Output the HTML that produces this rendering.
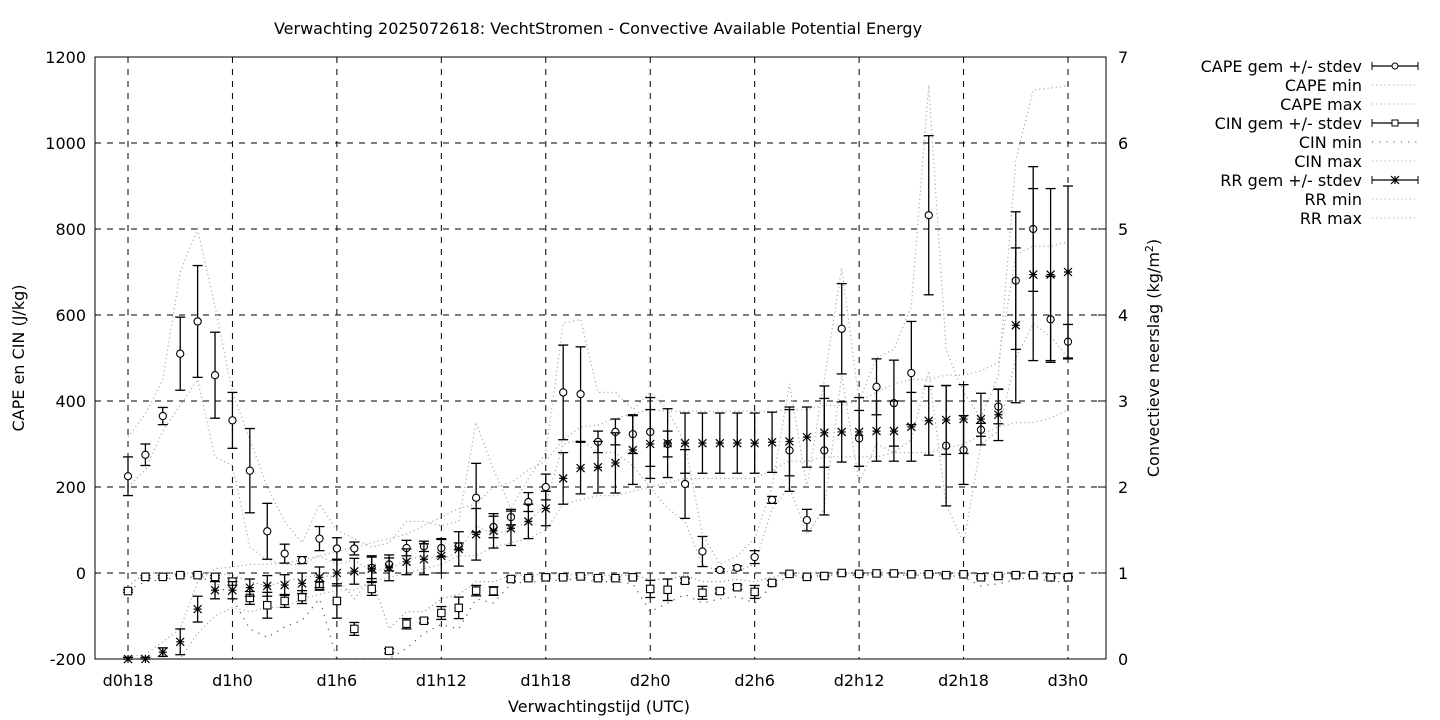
<!DOCTYPE html>
<html><head><meta charset="utf-8">
<style>
html,body{margin:0;padding:0;background:#fff;}
svg{display:block;font-family:"DejaVu Sans","Liberation Sans",sans-serif;}
</style></head>
<body>
<svg id="chart" width="1440" height="720" viewBox="0 0 1440 720" xmlns="http://www.w3.org/2000/svg">
<text x="598" y="34" font-size="16" text-anchor="middle">Verwachting 2025072618: VechtStromen - Convective Available Potential Energy</text>
<text x="599" y="712" font-size="16" text-anchor="middle">Verwachtingstijd (UTC)</text>
<text transform="translate(24,358) rotate(-90)" font-size="16" text-anchor="middle">CAPE en CIN (J/kg)</text>
<text transform="translate(1159,358) rotate(-90)" font-size="16" text-anchor="middle">Convectieve neerslag (kg/m<tspan baseline-shift="super" font-size="11">2</tspan>)</text>
<g id="grid"></g>
<g id="series"></g>
<rect x="95" y="57" width="1011" height="602" fill="none" stroke="#000" stroke-width="1"/>
<g id="axes"></g>
<g id="legend"></g>
</svg>
<script>
const xTickLabels = ["d0h18","d1h0","d1h6","d1h12","d1h18","d2h0","d2h6","d2h12","d2h18","d3h0"];
const yTicks = [-200,0,200,400,600,800,1000,1200];
const y2Ticks = [0,1,2,3,4,5,6,7];
const capeMean = [225,275,365,510,585,460,355,238,97,45,30,80,57,57,12,20,58,62,58,62,175,107,130,165,200,420,416,305,328,323,328,300,207,50,7,12,37,170,285,123,285,568,313,433,395,465,832,296,286,333,387,680,800,590,538];
const capeSd = [45,25,20,85,130,100,65,98,65,22,8,28,25,15,25,15,18,12,20,8,80,25,18,22,30,110,110,25,30,45,80,30,80,35,3,5,15,8,95,25,150,105,65,65,100,120,185,140,80,15,40,160,145,100,40];
const capeMin = [200,240,330,390,450,270,250,60,30,20,20,40,20,30,5,10,30,40,30,50,110,90,100,120,160,300,310,280,280,250,200,150,120,20,2,5,20,150,200,90,150,460,210,300,280,310,470,160,70,300,330,500,580,550,500];
const capeMax = [316,370,450,700,800,620,420,310,200,120,70,160,100,80,60,70,120,120,110,120,350,240,150,220,280,580,590,420,420,380,420,380,300,90,20,40,80,200,440,200,450,710,400,500,520,620,1135,520,420,360,460,960,1123,1128,1133];
const cinMean = [-42,-9,-9,-5,-5,-9,-20,-58,-75,-65,-56,-30,-65,-130,-37,-181,-118,-111,-93,-81,-41,-42,-14,-12,-10,-10,-8,-12,-12,-10,-37,-39,-18,-46,-42,-33,-44,-23,-2,-9,-7,0,-2,-1,-1,-3,-3,-5,-3,-10,-7,-5,-5,-10,-10];
const cinSd = [3,3,3,2,2,3,8,15,30,15,15,10,40,15,15,5,12,5,15,25,12,10,5,3,3,3,3,3,3,3,20,25,5,15,5,5,15,5,2,2,2,2,2,2,2,2,2,2,2,3,2,2,2,2,2];
const cinMin = [-40,-20,-15,-10,-10,-20,-60,-130,-150,-125,-110,-60,-200,-200,-200,-200,-175,-140,-120,-130,-60,-70,-25,-20,-20,-15,-15,-20,-20,-25,-90,-70,-50,-70,-60,-55,-70,-30,-5,-10,-5,-5,-5,-5,-5,-5,-5,-5,-10,-30,-25,-15,-10,-20,-20];
const cinMax = [-30,0,0,0,0,0,-5,-20,-30,-20,-10,-5,-10,-60,-10,-130,-90,-90,-60,-50,-20,-20,-5,-5,-3,-3,-3,-5,-5,-5,-15,-15,-5,-20,-20,-15,-20,-10,0,0,0,0,0,0,0,0,0,0,0,-3,-3,0,0,-3,-3];
const rrMean = [0,0,0.08,0.2,0.58,0.8,0.8,0.83,0.85,0.86,0.88,0.95,1.0,1.02,1.05,1.06,1.13,1.16,1.2,1.28,1.45,1.49,1.52,1.6,1.75,2.1,2.22,2.23,2.28,2.43,2.5,2.51,2.51,2.51,2.51,2.51,2.51,2.52,2.53,2.58,2.63,2.64,2.64,2.65,2.65,2.7,2.77,2.78,2.79,2.79,2.84,3.88,4.47,4.47,4.5];
const rrSd = [0.02,0.02,0.05,0.15,0.15,0.1,0.1,0.1,0.12,0.12,0.12,0.12,0.15,0.15,0.15,0.15,0.15,0.18,0.2,0.2,0.3,0.2,0.2,0.2,0.2,0.3,0.3,0.3,0.35,0.4,0.4,0.4,0.35,0.35,0.35,0.35,0.35,0.35,0.4,0.35,0.4,0.35,0.4,0.35,0.35,0.4,0.4,0.4,0.4,0.3,0.3,0.9,1.0,1.0,1.0];
const rrMin = [0,0,0,0,0.3,0.5,0.6,0.55,0.6,0.6,0.7,0.75,0.8,0.8,0.9,0.95,1.0,1.05,1.1,1.2,1.2,1.3,1.35,1.4,1.5,1.8,1.85,1.9,1.9,1.95,2.0,2.05,2.1,2.1,2.1,2.1,2.1,2.2,2.3,2.3,2.35,2.35,2.35,2.35,2.4,2.4,2.4,2.45,2.5,2.6,2.7,2.75,2.75,2.8,2.9];
const rrMax = [0.03,0.05,0.2,0.35,0.9,1.05,1.07,1.1,1.1,1.12,1.15,1.2,1.25,1.3,1.35,1.4,1.45,1.55,1.65,1.75,1.8,2.0,2.05,2.2,2.3,2.55,2.7,2.72,2.8,2.85,2.9,2.88,2.88,2.88,2.88,2.88,2.88,2.88,2.9,2.9,2.95,2.95,3.0,3.1,3.2,3.25,3.25,3.3,3.3,3.35,3.45,4.7,4.8,4.8,4.85];

const NS="http://www.w3.org/2000/svg";
const L=95,R=1106,T=57,B=659;
const X0=128, HOUR=(1068-128)/54;
function xs(i){return X0+HOUR*i;}
function yl(v){return B-(v+200)*(B-T)/1400;}
function yr(v){return B-v*(B-T)/7;}
function mk(tag,attrs,parent){const e=document.createElementNS(NS,tag);for(const k in attrs)e.setAttribute(k,attrs[k]);parent.appendChild(e);return e;}
const grid=document.getElementById('grid'),ser=document.getElementById('series'),axes=document.getElementById('axes'),leg=document.getElementById('legend');

xTickLabels.forEach((lab,k)=>{
  const x=xs(k*6);
  const g=mk('line',{x1:x,x2:x,y1:T,y2:B,stroke:'#000','stroke-dasharray':'6,6'},grid);
  
  
  const t=mk('text',{x:x,y:B+27,'font-size':16,'text-anchor':'middle'},axes);
  t.textContent=lab;
  
  
});
yTicks.forEach(v=>{
  const y=yl(v);
  if(v>-200&&v<1200){const g=mk('line',{x1:L,x2:R,y1:y,y2:y,stroke:'#000','stroke-dasharray':'6,6'},grid);
  
  }
  const t=mk('text',{x:L-9,y:y+6,'font-size':16,'text-anchor':'end'},axes);
  t.textContent=v;
  
  
});
y2Ticks.forEach(v=>{
  const y=yr(v);
  mk('line',{x1:R-8,x2:R,y1:y,y2:y,stroke:'#000'},axes);
  const t=mk('text',{x:R+12,y:y+6,'font-size':16},axes);
  t.textContent=v;
  
  
});

function dotted(arr,yf,color,dash,name){
  const pts=arr.map((v,i)=>xs(i).toFixed(1)+','+Math.max(T,Math.min(B,yf(v))).toFixed(1)).join(' ');
  const p=mk('polyline',{points:pts,fill:'none',stroke:color,'stroke-width':1.2,'stroke-dasharray':dash},ser);
  
  
}
dotted(capeMin,yl,'#aaa','1.2,3','cape-min-line');
dotted(capeMax,yl,'#aaa','1.2,3','cape-max-line');
dotted(cinMin,yl,'#555','1.2,6','cin-min-line');
dotted(cinMax,yl,'#999','1.2,3','cin-max-line');
dotted(rrMin,yr,'#aaa','1.2,3','rr-min-line');
dotted(rrMax,yr,'#aaa','1.2,3','rr-max-line');

function bar(x,y1,y2,g){
  y1=Math.max(T,Math.min(B,y1));y2=Math.max(T,Math.min(B,y2));
  mk('line',{x1:x,x2:x,y1:y1,y2:y2,stroke:'#000','stroke-width':1.3},g);
  mk('line',{x1:x-5,x2:x+5,y1:y1,y2:y1,stroke:'#000','stroke-width':1.3},g);
  mk('line',{x1:x-5,x2:x+5,y1:y2,y2:y2,stroke:'#000','stroke-width':1.3},g);
}
function star(x,y,g){
  const s=4;
  mk('path',{d:`M${x-s},${y}H${x+s}M${x},${y-s}V${y+s}M${x-s},${y-s}L${x+s},${y+s}M${x-s},${y+s}L${x+s},${y-s}`,stroke:'#000','stroke-width':1.2},g);
}
capeMean.forEach((v,i)=>{
  const g=mk('g',{},ser);
  
  
  bar(xs(i),yl(v-capeSd[i]),yl(v+capeSd[i]),g);
  mk('circle',{cx:xs(i),cy:yl(v),r:3.6,fill:'#fff',stroke:'#000','stroke-width':1.1},g);
});
cinMean.forEach((v,i)=>{
  const g=mk('g',{},ser);
  
  
  bar(xs(i),yl(v-cinSd[i]),yl(v+cinSd[i]),g);
  mk('rect',{x:xs(i)-3.7,y:yl(v)-3.7,width:7.4,height:7.4,fill:'#fff',stroke:'#000','stroke-width':1.1},g);
});
rrMean.forEach((v,i)=>{
  const g=mk('g',{},ser);
  
  
  bar(xs(i),yr(v-rrSd[i]),yr(v+rrSd[i]),g);
  star(xs(i),Math.min(B,yr(v)),g);
});

const legendEntries=[["CAPE gem +/- stdev","circle"],["CAPE min","dot"],["CAPE max","dot"],["CIN gem +/- stdev","square"],["CIN min","cdot"],["CIN max","dot"],["RR gem +/- stdev","star"],["RR min","dot"],["RR max","dot"]];
legendEntries.forEach((e,k)=>{
  const y=66+k*19;
  const g=mk('g',{},leg);
  
  
  const t=mk('text',{x:1362,y:y+6,'font-size':16,'text-anchor':'end'},g);
  t.textContent=e[0];
  if(e[1]==='dot'||e[1]==='cdot'){
    mk('line',{x1:1372,x2:1418,y1:y,y2:y,stroke:e[1]==='cdot'?'#555':'#aaa','stroke-dasharray':e[1]==='cdot'?'1.2,6':'1.2,3'},g);
  } else {
    mk('line',{x1:1372,x2:1418,y1:y,y2:y,stroke:'#000','stroke-width':1.2},g);
    mk('line',{x1:1372,x2:1372,y1:y-4,y2:y+4,stroke:'#000'},g);
    mk('line',{x1:1418,x2:1418,y1:y-4,y2:y+4,stroke:'#000'},g);
    if(e[1]==='circle')mk('circle',{cx:1395,cy:y,r:3,fill:'#fff',stroke:'#000'},g);
    if(e[1]==='square')mk('rect',{x:1392,y:y-3,width:6,height:6,fill:'#fff',stroke:'#000'},g);
    if(e[1]==='star')star(1395,y,g);
  }
});
</script>
</body></html>
